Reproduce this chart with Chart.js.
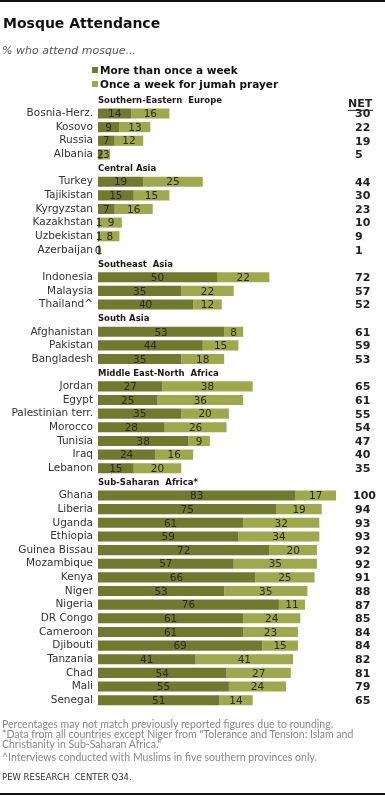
<!DOCTYPE html>
<html>
<head>
<meta charset="utf-8">
<script src="https://cdn.jsdelivr.net/npm/chart.js@4"></script>
<style>
  body { margin: 0; background: #fff; }
  #page { position: relative; width: 385px; height: 796px; overflow: hidden; }
  #page div { position: absolute; white-space: nowrap; }
  .rule { left: 0; width: 385px; height: 2px; background: #111; }
  .sq { width: 6px; height: 6px; }
  .leg { left: 100px; font: bold 10.5px "DejaVu Sans"; line-height: 14px; color: #111; }
  #notes { left: 2px; top: 719px; font: 10.5px Lato; line-height: 10px; color: #888; }
</style>
</head>
<body>
<div id="page">
  <canvas id="mosqueChart" width="385" height="796"></canvas>
  <div class="rule" style="top:0"></div>
  <div style="left:3px; top:14px; font:bold 14px 'DejaVu Sans'; line-height:18px; color:#111">Mosque Attendance</div>
  <div style="left:2px; top:44px; font:italic 11px 'DejaVu Sans'; line-height:13px; color:#555">% who attend mosque...</div>
  <div class="sq" style="left:92px; top:67px; background:#6f7a2e"></div>
  <div class="leg" style="top:63px">More than once a week</div>
  <div class="sq" style="left:92px; top:81px; background:#9ea84c"></div>
  <div class="leg" style="top:77px">Once a week for jumah prayer</div>
  <div id="notes">Percentages may not match previously reported figures due to rounding.<br>*Data from all countries except Niger from "Tolerance and Tension: Islam and<br>Christianity in Sub-Saharan Africa."<br><span style="display:inline-block;margin-top:3px">^Interviews conducted with Muslims in five southern provinces only.</span></div>
  <div style="left:2px; top:771px; font:8.5px 'DejaVu Sans'; line-height:12px; color:#333">PEW RESEARCH&nbsp; CENTER Q34.</div>
  <div class="rule" style="top:793px"></div>
</div>

<script>
// =========================================
// DATA
// =========================================

const regions = [
  "Southern-Eastern  Europe",
  "Central Asia",
  "Southeast  Asia",
  "South Asia",
  "Middle East-North  Africa",
  "Sub-Saharan  Africa*"
];

// number of countries under each region, in order
const regionSizes = [4, 6, 3, 3, 7, 16];

const countries = [
  "Bosnia-Herz.", "Kosovo", "Russia", "Albania",
  "Turkey", "Tajikistan", "Kyrgyzstan", "Kazakhstan", "Uzbekistan", "Azerbaijan",
  "Indonesia", "Malaysia", "Thailand^",
  "Afghanistan", "Pakistan", "Bangladesh",
  "Jordan", "Egypt", "Palestinian terr.", "Morocco", "Tunisia", "Iraq", "Lebanon",
  "Ghana", "Liberia", "Uganda", "Ethiopia", "Guinea Bissau", "Mozambique", "Kenya",
  "Niger", "Nigeria", "DR Congo", "Cameroon", "Djibouti", "Tanzania", "Chad",
  "Mali", "Senegal"
];

const moreThanWeekly = [
  14, 9, 7, 2,
  19, 15, 7, 1, 1, 0,
  50, 35, 40,
  53, 44, 35,
  27, 25, 35, 28, 38, 24, 15,
  83, 75, 61, 59, 72, 57, 66, 53, 76, 61, 61, 69, 41, 54, 55, 51
];

const weeklyJumah = [
  16, 13, 12, 3,
  25, 15, 16, 9, 8, 1,
  22, 22, 12,
  8, 15, 18,
  38, 36, 20, 26, 9, 16, 20,
  17, 19, 32, 34, 20, 35, 25, 35, 11, 24, 23, 15, 41, 27, 24, 14
];

const netValues = [
  30, 22, 19, 5,
  44, 30, 23, 10, 9, 1,
  72, 57, 52,
  61, 59, 53,
  65, 61, 55, 54, 47, 40, 35,
  100, 94, 93, 93, 92, 92, 91, 88, 87, 85, 84, 84, 82, 81, 79, 65
];


// =========================================
// ROWS (region headers become empty rows)
// =========================================

const rowLabels = [];
const moreRows = [];
const onceRows = [];
const netRows = [];
const headerAt = {};

let k = 0;
regions.forEach((region, r) => {
  headerAt[rowLabels.length] = region;
  rowLabels.push("");
  moreRows.push(null);
  onceRows.push(null);
  netRows.push(null);
  for (let i = 0; i < regionSizes[r]; i++, k++) {
    rowLabels.push(countries[k]);
    moreRows.push(moreThanWeekly[k]);
    onceRows.push(weeklyJumah[k]);
    netRows.push(netValues[k]);
  }
});


// =========================================
// TEXT PLUGIN (values, headers, NET)
// =========================================

const textPlugin = {
  id: "mosqueText",
  afterDatasetsDraw(chart) {
    const ctx = chart.ctx;
    const yScale = chart.scales.y;
    ctx.save();

    // segment values
    ctx.font = "10.5px 'DejaVu Sans'";
    ctx.fillStyle = "#2b2b20";
    ctx.textAlign = "center";
    ctx.textBaseline = "middle";
    chart.data.datasets.forEach((ds, i) => {
      chart.getDatasetMeta(i).data.forEach((bar, idx) => {
        const v = ds.data[idx];
        if (v === null) return;
        const p = bar.getProps(["x", "base", "y"], true);
        ctx.fillText(String(v), (p.x + p.base) / 2, p.y + 1);
      });
    });

    // region headers
    ctx.font = "bold 8.5px 'DejaVu Sans'";
    ctx.fillStyle = "#1a1a1a";
    ctx.textAlign = "left";
    Object.keys(headerAt).forEach(idx => {
      ctx.fillText(headerAt[idx], chart.chartArea.left, yScale.getPixelForValue(+idx) + 1);
    });

    // NET column
    ctx.font = "bold 11px 'DejaVu Sans'";
    ctx.fillStyle = "#222";
    const netY = yScale.getPixelForValue(0) + 4;
    ctx.fillText("NET", 348, netY);
    ctx.fillRect(348, netY + 6, 25, 1);
    netRows.forEach((v, idx) => {
      if (v === null) return;
      ctx.fillText(String(v), v >= 100 ? 353 : 355, yScale.getPixelForValue(idx) + 1);
    });

    ctx.restore();
  }
};


// =========================================
// CHART
// =========================================

const mosqueCtx =
document.getElementById("mosqueChart");

new Chart(mosqueCtx, {

  type: "bar",

  data: {

    labels: rowLabels,

    datasets: [{
      label: "More than once a week",
      data: moreRows,
      backgroundColor: "#6f7a2e"
    }, {
      label: "Once a week for jumah prayer",
      data: onceRows,
      backgroundColor: "#9ea84c"
    }]
  },

  options: {

    indexAxis: "y",
    responsive: false,
    animation: false,

    layout: {
      padding: { top: 93, bottom: 89, left: 0, right: 49 }
    },

    datasets: {
      bar: { barPercentage: 0.74, categoryPercentage: 1 }
    },

    scales: {
      x: {
        stacked: true,
        min: 0,
        max: 100,
        display: false
      },
      y: {
        stacked: true,
        grid: { display: false, drawTicks: false },
        border: { display: false },
        ticks: {
          autoSkip: false,
          color: "#333",
          padding: 5,
          font: { family: "DejaVu Sans", size: 10.5 }
        },
        afterFit(scale) {
          scale.width = 98;
        }
      }
    },

    plugins: {
      legend: { display: false },
      tooltip: { enabled: false }
    }
  },

  plugins: [textPlugin]
});
</script>
</body>
</html>
